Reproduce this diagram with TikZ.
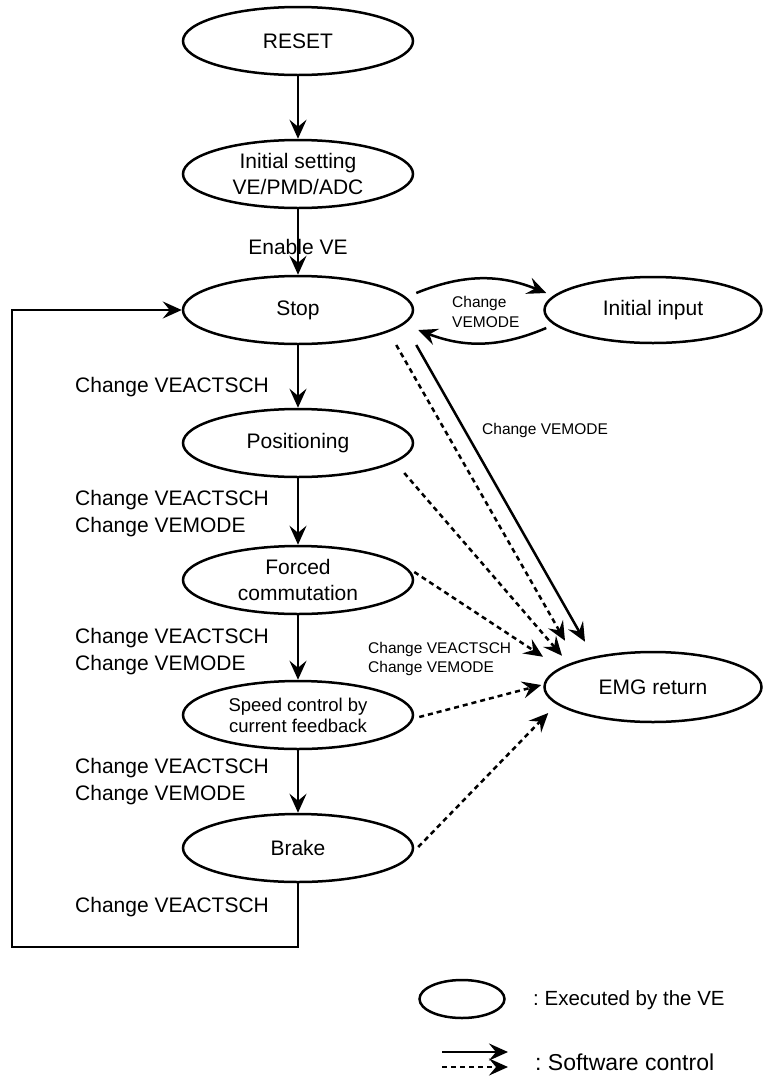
\documentclass[tikz,border=0pt]{standalone}
\usepackage{fontspec}
\setmainfont{Liberation Sans}
\usetikzlibrary{shapes.geometric,arrows.meta}
\begin{document}
\begin{tikzpicture}[x=1pt,y=-1pt,
  state/.style={draw,ellipse,line width=2.5pt,minimum width=230pt,minimum height=68pt,inner sep=0pt,align=center,font=\fontsize{21}{26}\selectfont},
  arr/.style={line width=2.5pt,-{Stealth[length=19pt,width=17pt,inset=7pt]}},
  dsh/.style={arr,dash pattern=on 5pt off 4pt},
  lbl/.style={anchor=west,align=left,inner sep=0pt,font=\fontsize{21}{27}\selectfont},
  sml/.style={anchor=west,align=left,inner sep=0pt,font=\fontsize{15.5}{19}\selectfont}]
  \useasboundingbox (0,0) rectangle (763,1077);
  \node[state] (reset) at (298,41) {RESET};
  \node[state] (init) at (298,174) {Initial setting\\VE/PMD/ADC};
  \node[state] (stop) at (298,310) {Stop};
  \node[state] (pos) at (298,443) {Positioning};
  \node[state] (forced) at (298,580) {Forced\\commutation};
  \node[state,font=\fontsize{18.5}{21}\selectfont] (speed) at (298,715) {Speed control by\\current feedback};
  \node[state] (brake) at (298,848) {Brake};
  \node[state,minimum width=217pt,minimum height=66pt] (initin) at (653,310) {Initial input};
  \node[state,minimum width=217pt,minimum height=70pt] (emg) at (653,687) {EMG return};
  \draw[arr] (reset) -- (init);
  \draw[arr] (init) -- node[pos=0.57,inner sep=0pt,font=\fontsize{21}{26}\selectfont] (enve) {Enable VE} (stop);
  \draw[arr] (stop) -- (pos);
  \draw[arr] (pos) -- (forced);
  \draw[arr] (forced) -- (speed);
  \draw[arr] (speed) -- (brake);
  \coordinate (loopa) at (12,947);
  \draw[arr] (brake.south) |- (loopa) |- (stop.west);
  \node[lbl] (l1) at (75,387) {Change VEACTSCH};
  \node[lbl] (l2) at (75,513.5) {Change VEACTSCH\\Change VEMODE};
  \node[lbl] (l3) at (75,651.5) {Change VEACTSCH\\Change VEMODE};
  \node[lbl] (l4) at (75,781.5) {Change VEACTSCH\\Change VEMODE};
  \node[lbl] (l5) at (75,907) {Change VEACTSCH};
  \draw[arr] ([shift={(2,-17)}]stop.east) to[bend left=22] ([shift={(3,-17)}]initin.west);
  \draw[arr] ([shift={(3,18)}]initin.west) to[bend left=22] ([shift={(4,20)}]stop.east);
  \node[sml,font=\fontsize{15.5}{20}\selectfont] (l6) at (452,312) {Change\\VEMODE};
  \draw[dsh] ([shift={(-18,35)}]stop.east) -- ([shift={(-88,-10)}]emg.north);
  \draw[arr] ([shift={(2,35)}]stop.east) -- ([shift={(-68,-9)}]emg.north);
  \draw[dsh] ([shift={(-10,30)}]pos.east) -- ([shift={(-91,5)}]emg.north);
  \draw[dsh] ([shift={(0,-8)}]forced.east) -- ([shift={(-110,6)}]emg.north);
  \draw[dsh] ([shift={(5,2)}]speed.east) -- ([shift={(-2,-2)}]emg.west);
  \draw[dsh] ([shift={(4,-1)}]brake.east) -- ([shift={(5,26)}]emg.west);
  \node[sml] (l7) at (482,430) {Change VEMODE};
  \node[sml] (l8) at (368,659) {Change VEACTSCH\\Change VEMODE};
  \node[draw,ellipse,line width=2.5pt,minimum width=85pt,minimum height=38pt,inner sep=0pt] (key) at (462,999) {};
  \node[lbl,font=\fontsize{20.5}{24}\selectfont] (keyt) at (533,1000) {:\ Executed by the VE};
  \coordinate (sa) at (442,1052);
  \coordinate (sb) at (508,1052);
  \coordinate (da) at (442,1067);
  \coordinate (db) at (508,1067);
  \draw[arr] (sa) -- (sb);
  \draw[dsh] (da) -- (db);
  \node[lbl,font=\fontsize{23}{27}\selectfont] (swt) at (535,1062) {:\ Software control};
\end{tikzpicture}
\end{document}
